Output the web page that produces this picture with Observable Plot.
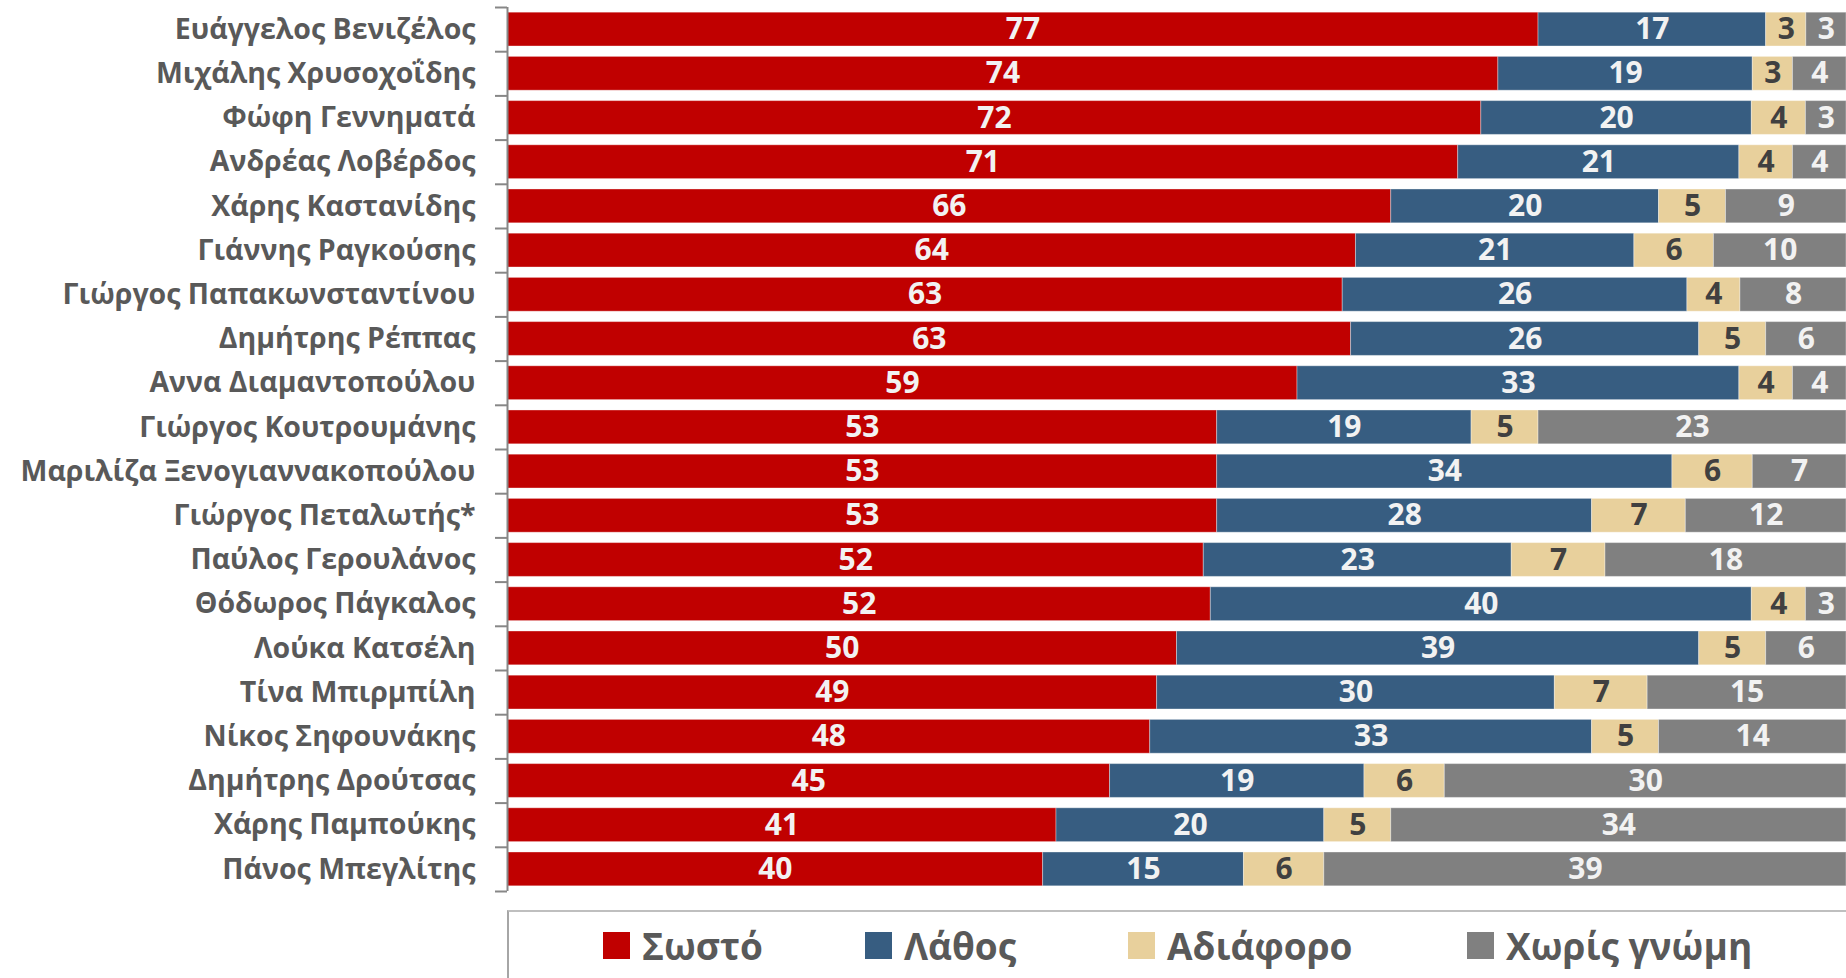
<!DOCTYPE html>
<html>
<head>
<meta charset="utf-8">
<script src="https://cdn.jsdelivr.net/npm/d3@7"></script>
<script src="https://cdn.jsdelivr.net/npm/@observablehq/plot@0.6"></script>
<style>
  html, body { margin: 0; padding: 0; background: #fff; }
  #chart { width: 1846px; height: 900px; }
  #legend {
    position: relative; margin-left: 507px; margin-top: 10px; height: 68px;
    border-top: 2px solid #BFBFBF; border-left: 2px solid #A6A6A6;
    display: flex; align-items: center; padding-left: 94px;
    font-family: "Open Sans", sans-serif; font-weight: 700; font-size: 37px; color: #595959;
    box-sizing: border-box;
  }
  .item { display: flex; align-items: center; gap: 12px; flex: none; }
  .sw { width: 27px; height: 27px; display: inline-block; }
</style>
</head>
<body>
<div id="chart"></div>
<div id="legend"></div>
<script>
const categories = [
  "Ευάγγελος Βενιζέλος","Μιχάλης Χρυσοχοΐδης","Φώφη Γεννηματά","Ανδρέας Λοβέρδος",
  "Χάρης Καστανίδης","Γιάννης Ραγκούσης","Γιώργος Παπακωνσταντίνου","Δημήτρης Ρέππας",
  "Αννα Διαμαντοπούλου","Γιώργος Κουτρουμάνης","Μαριλίζα Ξενογιαννακοπούλου","Γιώργος Πεταλωτής*",
  "Παύλος Γερουλάνος","Θόδωρος Πάγκαλος","Λούκα Κατσέλη","Τίνα Μπιρμπίλη",
  "Νίκος Σηφουνάκης","Δημήτρης Δρούτσας","Χάρης Παμπούκης","Πάνος Μπεγλίτης"
];
const sosto    = [77,74,72,71,66,64,63,63,59,53,53,53,52,52,50,49,48,45,41,40];
const lathos   = [17,19,20,21,20,21,26,26,33,19,34,28,23,40,39,30,33,19,20,15];
const adiaforo = [ 3, 3, 4, 4, 5, 6, 4, 5, 4, 5, 6, 7, 7, 4, 5, 7, 5, 6, 5, 6];
const xoris    = [ 3, 4, 3, 4, 9,10, 8, 6, 4,23, 7,12,18, 3, 6,15,14,30,34,39];
const seriesNames = ["Σωστό","Λάθος","Αδιάφορο","Χωρίς γνώμη"];
const seriesColors = ["#C00000","#375D81","#E8D09C","#808080"];
const labelColors = ["#F2F2F2","#F2F2F2","#404040","#F2F2F2"];
const legendWidths = [262, 263, 339, null];

const seriesValues = [sosto, lathos, adiaforo, xoris];
const data = categories.flatMap((name, i) =>
  seriesNames.map((series, j) => ({name, series, si: j, value: seriesValues[j][i]})));

const fontFamily = "'Open Sans', sans-serif";
const half = 884 / 20 / 2;

const chart = Plot.plot({
  width: 1846, height: 900,
  marginLeft: 507, marginRight: 0, marginTop: 7, marginBottom: 9,
  x: {axis: null, domain: [0, 1]},
  y: {domain: categories, paddingInner: 0.235, paddingOuter: 0.1175, round: false, label: null, axis: null},
  color: {type: "identity"},
  style: {fontFamily, background: "white"},
  marks: [
    Plot.barX(data, Plot.stackX({
      x: "value", y: "name", z: "series", offset: "normalize",
      fill: d => seriesColors[d.si], stroke: "#FFFFFF", strokeOpacity: 0.35, strokeWidth: 1
    })),
    Plot.text(data, Plot.stackX({
      x: "value", y: "name", z: "series", offset: "normalize",
      text: d => String(d.value), fill: d => labelColors[d.si],
      fontSize: 30, fontWeight: 700, fontFamily
    })),
    Plot.axisY({tickSize: 0, tickPadding: 32, fontSize: 28.5, fontWeight: 700, fill: "#595959", fontFamily}),
    Plot.ruleX([0], {stroke: "#878787", strokeWidth: 2}),
    Plot.ruleY(categories, {y: d => d, x1: 0, x2: 0, insetLeft: -12, dy: -half, stroke: "#878787", strokeWidth: 2}),
    Plot.ruleY(categories.slice(-1), {y: d => d, x1: 0, x2: 0, insetLeft: -12, dy: half, stroke: "#878787", strokeWidth: 2})
  ]
});
document.getElementById("chart").appendChild(chart);

const legend = document.getElementById("legend");
seriesNames.forEach((s, i) => {
  const it = document.createElement("div");
  it.className = "item";
  if (legendWidths[i]) it.style.width = legendWidths[i] + "px";
  const sw = document.createElement("span");
  sw.className = "sw"; sw.style.background = seriesColors[i];
  const t = document.createElement("span");
  t.textContent = s;
  it.appendChild(sw); it.appendChild(t);
  legend.appendChild(it);
});
</script>
</body>
</html>
